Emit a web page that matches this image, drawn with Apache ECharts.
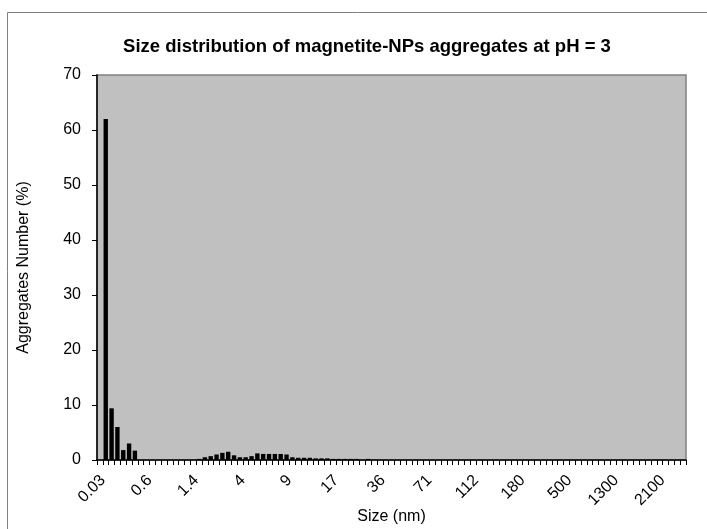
<!DOCTYPE html>
<html>
<head>
<meta charset="utf-8">
<script src="https://cdn.jsdelivr.net/npm/echarts@6/dist/echarts.min.js"></script>
<style>
html,body{margin:0;padding:0;background:#fff;}
#chart{width:707px;height:529px;}
</style>
</head>
<body>
<div id="chart"></div>
<script>
// Tick labels shown every 8th category, starting at category 1
const tickLabels = ['0.03','0.6','1.4','4','9','17','36','71','112','180','500','1300','2100'];
const categoryCount = 101;
const labelStart = 1;
const labelStep = 8;

// Aggregates Number (%) per size class
const valuesSmall = [0, 62, 9.4, 6.0, 1.8, 3.0, 1.7];              // classes 0-6
const valuesGap1 = [0, 0, 0, 0, 0, 0, 0, 0, 0, 0];                  // classes 7-16
const valuesMid = [0.2, 0.5, 0.7, 1.0, 1.3, 1.5, 0.85, 0.5, 0.5, 0.7,
                   1.2, 1.1, 1.1, 1.1, 1.1, 1.0, 0.5, 0.4, 0.4, 0.4,
                   0.3, 0.3, 0.3, 0.2, 0.2, 0.2, 0.2, 0.2, 0, 0.2];  // classes 17-46
const valuesLarge = new Array(54).fill(0);                         // classes 47-100

const values = valuesSmall.concat(valuesGap1, valuesMid, valuesLarge);
const categories = [];
for (let i = 0; i < categoryCount; i++) {
  const k = i - labelStart;
  categories.push(k >= 0 && k % labelStep === 0 ? tickLabels[k / labelStep] : '');
}

const chart = echarts.init(document.getElementById('chart'), null, {renderer: 'canvas'});
const font = 'Liberation Sans, Arial, sans-serif';
chart.setOption({
  backgroundColor: '#ffffff',
  animation: false,
  graphic: [{
    type: 'rect', left: 5, top: 10, z: -10,
    shape: {width: 720, height: 540},
    style: {fill: 'none', stroke: '#808080', lineWidth: 1}
  }],
  title: {
    text: 'Size distribution of magnetite-NPs aggregates at pH = 3',
    left: 362, top: 32, textAlign: 'center',
    textStyle: {fontFamily: font, fontSize: 18.5, fontWeight: 'bold', color: '#000'}
  },
  grid: {
    left: 97, top: 75, right: 21, bottom: 69,
    containLabel: false, outerBoundsMode: 'none',
    show: true, backgroundColor: '#c0c0c0', borderColor: '#808080', borderWidth: 1.5
  },
  xAxis: {
    type: 'category',
    data: categories,
    boundaryGap: true,
    name: 'Size (nm)',
    nameLocation: 'middle',
    nameGap: 49,
    nameMoveOverlap: false,
    nameTextStyle: {fontFamily: font, fontSize: 16, color: '#000'},
    axisLine: {show: true, lineStyle: {color: '#000', width: 1.5}},
    axisTick: {show: true, interval: 0, length: 5, alignWithLabel: false, lineStyle: {color: '#000'}},
    axisLabel: {
      interval: 0, rotate: 45, margin: 15, padding: [0, 4, 0, 0],
      fontFamily: font, fontSize: 16, color: '#000'
    },
    splitLine: {show: false}
  },
  yAxis: {
    type: 'value',
    min: 0, max: 70, interval: 10,
    name: 'Aggregates Number (%)',
    nameLocation: 'middle',
    nameGap: 65,
    nameMoveOverlap: false,
    nameTextStyle: {fontFamily: font, fontSize: 16, color: '#000'},
    axisLine: {show: true, lineStyle: {color: '#000', width: 1.5}},
    axisTick: {show: true, length: 5, inside: false, lineStyle: {color: '#000'}},
    axisLabel: {fontFamily: font, fontSize: 16, color: '#000', margin: 16},
    splitLine: {show: false}
  },
  series: [{
    type: 'bar',
    data: values,
    barCategoryGap: '25%',
    itemStyle: {color: '#000'}
  }]
});
</script>
</body>
</html>
